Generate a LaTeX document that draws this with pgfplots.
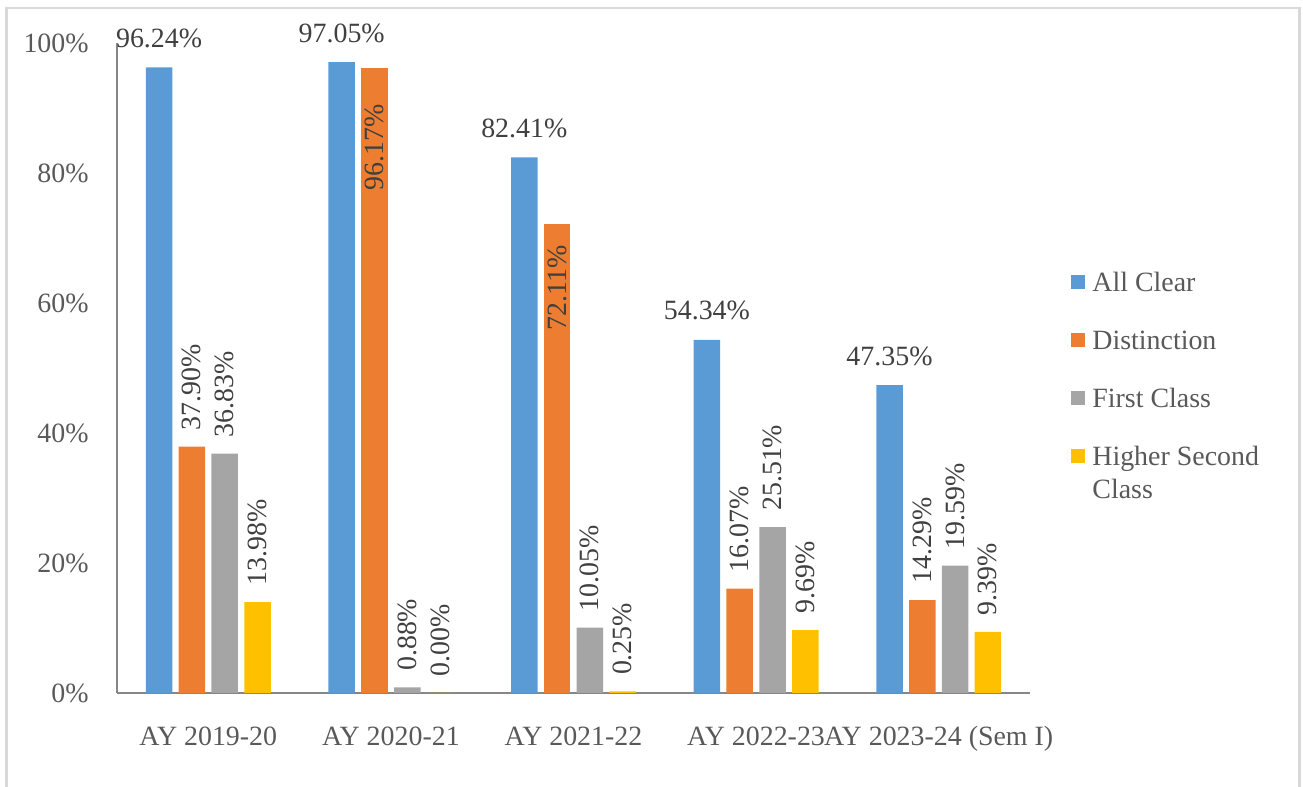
\documentclass[border=0pt]{standalone}
\usepackage{pgfplots}
\pgfplotsset{compat=1.18}
\usepackage{fontspec}
\setmainfont{Liberation Serif}
\definecolor{cBlue}{HTML}{5B9BD5}
\definecolor{cOrange}{HTML}{ED7D31}
\definecolor{cGray}{HTML}{A5A5A5}
\definecolor{cGold}{HTML}{FFC000}
\definecolor{txt}{HTML}{595959}
\definecolor{lbl}{HTML}{404040}
\definecolor{framec}{HTML}{D9D9D9}
\definecolor{axln}{HTML}{868686}
\newcommand\cf{\fontsize{13.95}{16.5}\selectfont}

\pgfplotsset{
  sqleg/.style={legend image code/.code={\fill[##1] (0pt,-3.5pt) rectangle (7pt,3.5pt);}},
  mybar/.style={ybar, forget plot, draw=none, bar width=13.25pt, point meta=y,
    nodes near coords={\pgfmathprintnumber[fixed,fixed zerofill,precision=2]{\pgfplotspointmeta}\%}},
  hlab/.style={nodes near coords style={font=\cf, text=lbl, anchor=base, inner sep=0pt, xshift=#1, yshift=10pt}},
  vout/.style={nodes near coords style={font=\cf, text=lbl, inner sep=0pt, xshift=#1, yshift=8pt, rotate=90, anchor=west}},
  vin/.style 2 args={nodes near coords style={font=\cf, text=lbl, inner sep=0pt, xshift=#1, yshift=#2, rotate=90, anchor=east}},
}

\begin{document}
\begin{tikzpicture}
\useasboundingbox (0,0) rectangle (651.5pt,393.5pt);
\draw[framec, line width=1.25pt] (3.25pt,-5pt) -- (3.25pt,389.5pt) -- (649.75pt,389.5pt) -- (649.75pt,-5pt);
\begin{axis}[
  at={(58.5pt,47pt)}, anchor=south west,
  scale only axis, width=456.5pt, height=325pt,
  xmin=-0.5, xmax=4.5, ymin=0, ymax=100,
  enlargelimits=false, clip=false,
  axis x line*=bottom, axis y line*=left,
  axis line style={axln, line width=0.8pt},
  tick style={draw=none},
  xtick={0,1,2,3,4},
  xticklabels={AY 2019-20, AY 2020-21, AY 2021-22, AY 2022-23, AY 2023-24 (Sem I)},
  ytick={0,20,40,60,80,100},
  yticklabels={0\%,20\%,40\%,60\%,80\%,100\%},
  xticklabel style={font=\cf, text=txt, anchor=base, inner sep=0pt, yshift=-26.5pt},
  yticklabel style={font=\cf, text=txt, anchor=east, inner sep=0pt, xshift=-14pt},
  /pgf/number format/assume math mode=true,
  legend cell align=left,
  legend style={draw=none, fill=none, font=\cf, at={(1.0449,0.6477)}, anchor=north west,
    inner sep=0pt, row sep=19.5pt, column sep=3.5pt,
    nodes={inner sep=0pt, text=txt, text height=9.5pt, text depth=0pt}},
]
% All Clear
\addplot[mybar, fill=cBlue, bar shift=-24.6pt, hlab=-24.6pt] coordinates {(0,96.24) (1,97.05) (2,82.41) (3,54.34) (4,47.35)};
% Distinction
\addplot[mybar, fill=cOrange, bar shift=-8.2pt, vout=-8.2pt] coordinates {(0,37.90) (3,16.07) (4,14.29)};
\addplot[mybar, fill=cOrange, bar shift=-8.2pt, vin={-8.2pt}{-18pt}] coordinates {(1,96.17)};
\addplot[mybar, fill=cOrange, bar shift=-8.2pt, vin={-8.2pt}{-10.5pt}] coordinates {(2,72.11)};
% First Class
\addplot[mybar, fill=cGray, bar shift=8.2pt, vout=8.2pt] coordinates {(0,36.83) (1,0.88) (2,10.05) (3,25.51) (4,19.59)};
% Higher Second Class
\addplot[mybar, fill=cGold, bar shift=24.6pt, vout=24.6pt] coordinates {(0,13.98) (1,0.00) (2,0.25) (3,9.69) (4,9.39)};
\addlegendimage{sqleg, fill=cBlue, draw=none}
\addlegendentry{All Clear}
\addlegendimage{sqleg, fill=cOrange, draw=none}
\addlegendentry{Distinction}
\addlegendimage{sqleg, fill=cGray, draw=none}
\addlegendentry{First Class}
\addlegendimage{sqleg, fill=cGold, draw=none}
\addlegendentry{{\begin{tabular}[t]{@{}l@{}}Higher Second\\Class\end{tabular}}}
\end{axis}
\end{tikzpicture}
\end{document}
